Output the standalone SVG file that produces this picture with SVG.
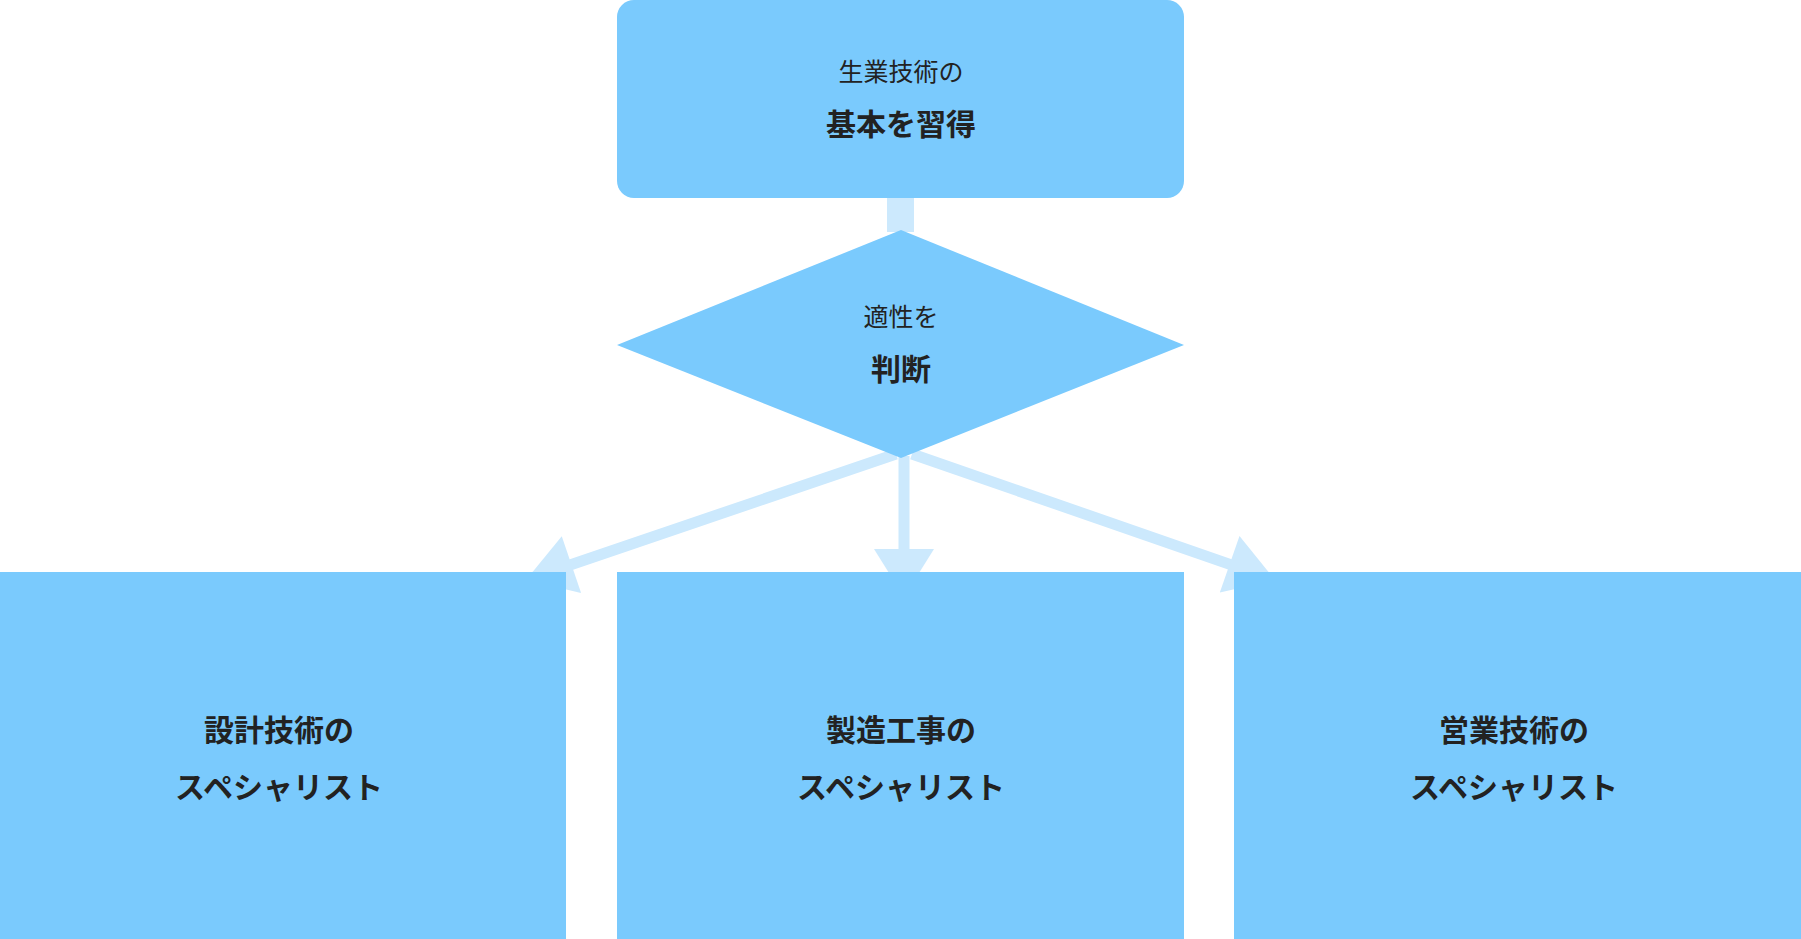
<svg xmlns="http://www.w3.org/2000/svg" width="1801" height="939" viewBox="0 0 1801 939">
<style>
.n{fill:#7acafd}
.t{font-family:"Noto Sans CJK JP","Noto Sans",sans-serif;fill:#222;text-anchor:middle}
.s{font-size:25px}
.b{font-size:30px;font-weight:bold}
.c{stroke:#cce9fd;stroke-width:11;fill:none}
</style>
<defs>
<marker id="ah" markerUnits="userSpaceOnUse" markerWidth="60" markerHeight="60" refX="40" refY="25" orient="auto" viewBox="0 0 40 50">
<polygon points="0,0 40,25 0,50" fill="#cce9fd"/>
</marker>
</defs>
<rect width="1801" height="939" fill="#fff"/>
<g id="connectors">
<rect x="887" y="198" width="27" height="34" fill="#cce9fd"/>
<line class="c" x1="904" y1="456" x2="904" y2="597" marker-end="url(#ah)"/>
<line class="c" x1="896" y1="454" x2="526" y2="580" marker-end="url(#ah)"/>
<line class="c" x1="912" y1="454" x2="1275" y2="580" marker-end="url(#ah)"/>
</g>
<g id="top">
<rect class="n" x="617" y="0" width="567" height="198" rx="17"/>
<text class="t s" x="901" y="81">生業技術の</text>
<text class="t b" x="901" y="135">基本を習得</text>
</g>
<g id="decision">
<polygon class="n" points="617,345 901,230 1184,345 901,458"/>
<text class="t s" x="901" y="326">適性を</text>
<text class="t b" x="901" y="380">判断</text>
</g>
<g id="left">
<rect class="n" x="0" y="572" width="566" height="367"/>
<text class="t b" x="279" y="741">設計技術の</text>
<text class="t b" x="279" y="798">スペシャリスト</text>
</g>
<g id="center">
<rect class="n" x="617" y="572" width="567" height="367"/>
<text class="t b" x="901" y="741">製造工事の</text>
<text class="t b" x="901" y="798">スペシャリスト</text>
</g>
<g id="right">
<rect class="n" x="1234" y="572" width="567" height="367"/>
<text class="t b" x="1514" y="741">営業技術の</text>
<text class="t b" x="1514" y="798">スペシャリスト</text>
</g>
</svg>
